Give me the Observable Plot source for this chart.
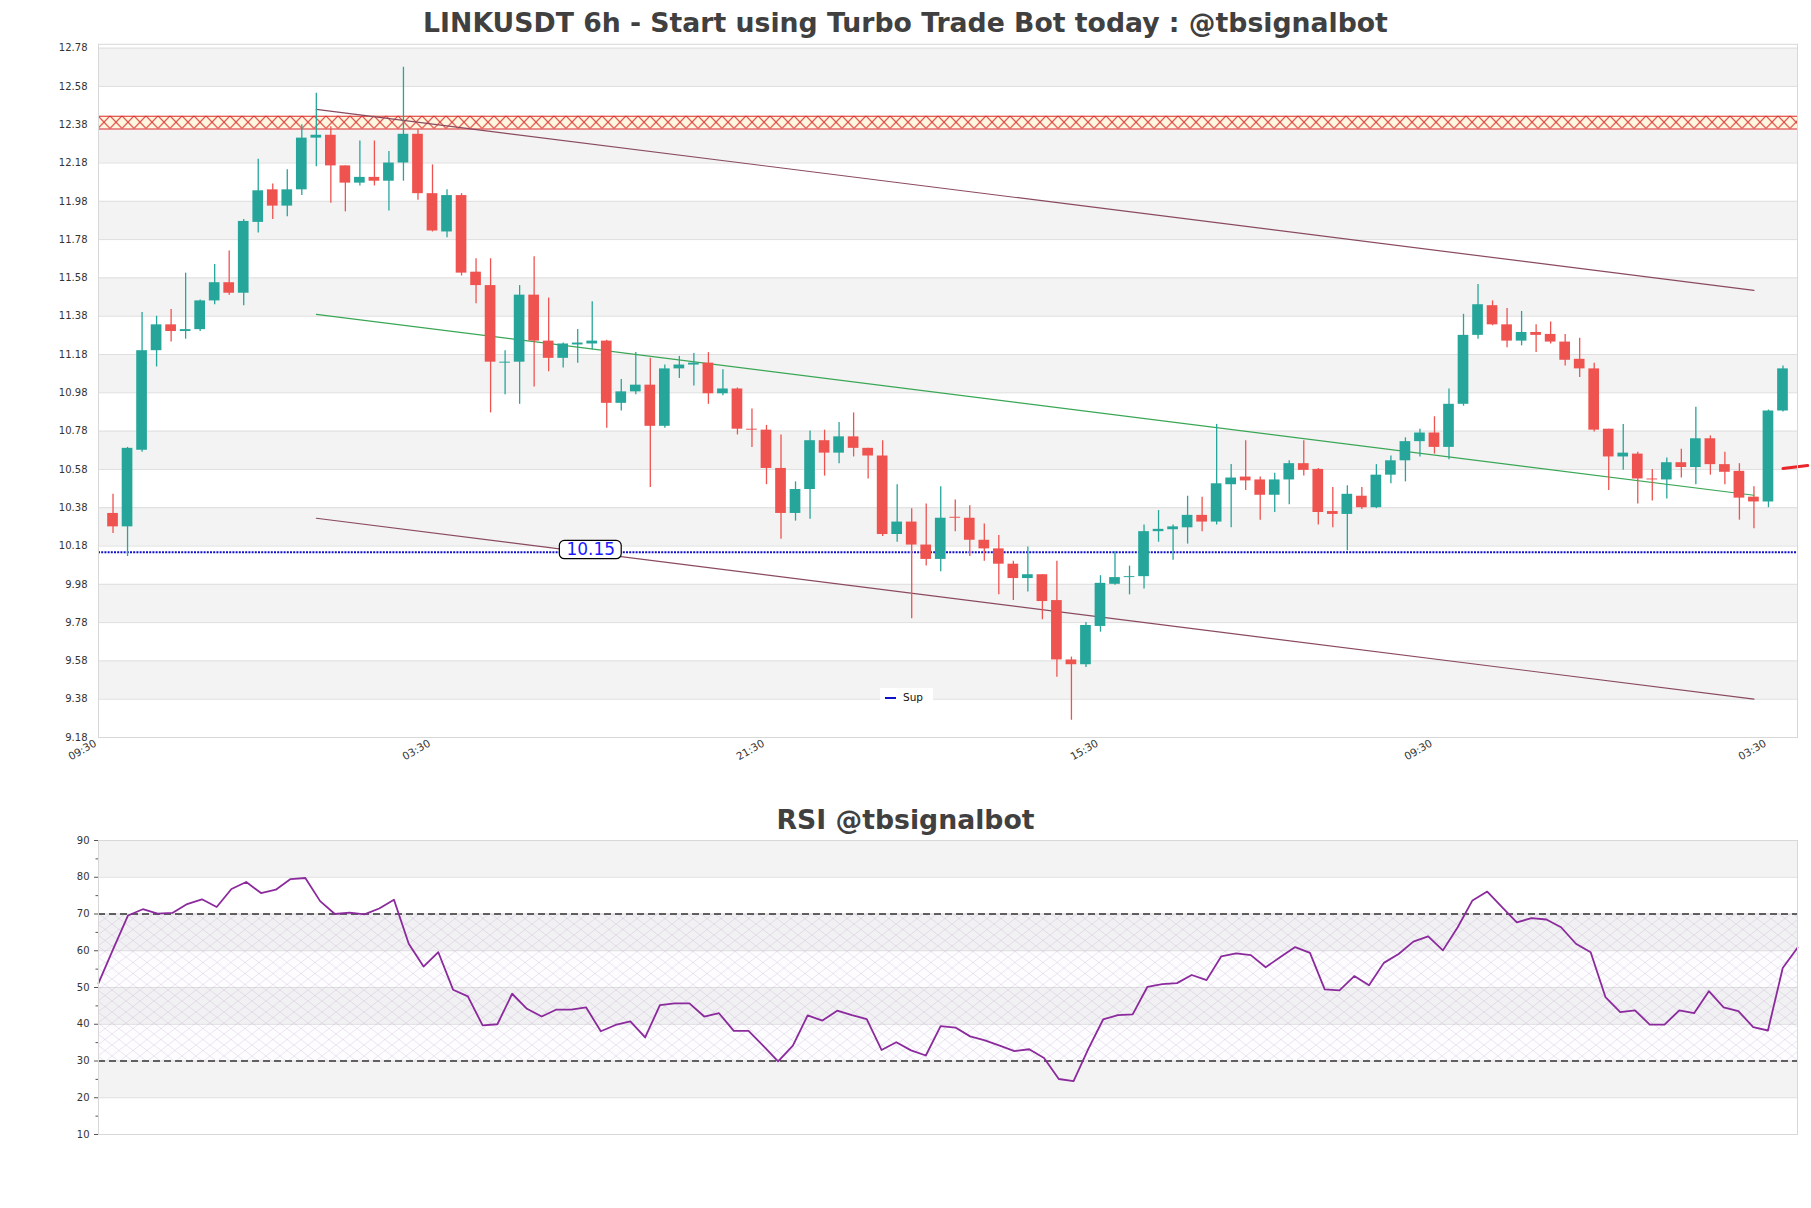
<!DOCTYPE html>
<html><head><meta charset="utf-8">
<script src="https://cdn.jsdelivr.net/npm/d3@7"></script>
<script src="https://cdn.jsdelivr.net/npm/@observablehq/plot@0.6"></script>
<style>
body{margin:0;background:#fff;}
#page{position:relative;width:1811px;height:1208px;overflow:hidden;font-family:"DejaVu Sans",sans-serif;background:#fff;}
.title{position:absolute;left:0;width:1811px;text-align:center;font-weight:bold;font-size:26.7px;color:#404040;line-height:34px;white-space:nowrap;}
#t1{top:6px;} #t2{top:803px;}
#c1{position:absolute;left:0;top:40px;}
#c2{position:absolute;left:0;top:836px;}
#legend{position:absolute;left:880px;top:688px;width:53px;height:18px;background:#fff;font-size:10.5px;color:#111;}
#legend .sw{position:absolute;left:5px;top:9px;width:11px;height:2px;background:#1010c8;}
#legend .lb{position:absolute;left:23px;top:0;line-height:18px;}
</style></head>
<body><div id="page">
<div class="title" id="t1">LINKUSDT 6h - Start using Turbo Trade Bot today : @tbsignalbot</div>
<div id="c1"></div>
<div id="legend"><div class="sw"></div><div class="lb">Sup</div></div>
<div class="title" id="t2">RSI @tbsignalbot</div>
<div id="c2"></div>
</div>
<script>
// ---------- data ----------
const opens  = [10.35,10.28,10.68,11.20,11.335,11.30,11.31,11.46,11.555,11.50,11.87,12.04,11.955,12.04,12.31,12.325,12.165,12.075,12.105,12.085,12.18,12.33,12.02,11.82,12.01,11.61,11.54,11.135,11.14,11.49,11.25,11.16,11.23,11.235,11.25,10.925,10.985,11.02,10.805,11.105,11.125,11.135,10.975,11.00,10.79,10.785,10.585,10.35,10.475,10.73,10.665,10.75,10.69,10.65,10.24,10.305,10.185,10.11,10.33,10.325,10.21,10.165,10.085,10.01,10.03,9.895,9.585,9.56,9.76,9.98,10.015,10.02,10.255,10.265,10.275,10.34,10.305,10.50,10.54,10.525,10.445,10.525,10.61,10.58,10.36,10.345,10.44,10.38,10.55,10.625,10.725,10.77,10.695,10.92,11.28,11.435,11.335,11.25,11.295,11.285,11.245,11.155,11.105,10.79,10.645,10.66,10.53,10.525,10.615,10.59,10.74,10.605,10.57,10.435,10.41,10.885];
const highs  = [10.45,10.695,11.40,11.38,11.415,11.605,11.465,11.65,11.72,11.885,12.20,12.07,12.145,12.38,12.545,12.37,12.165,12.295,12.295,12.24,12.68,12.355,12.17,12.04,12.02,11.68,11.68,11.20,11.54,11.69,11.475,11.24,11.31,11.455,11.255,11.05,11.19,11.16,11.125,11.17,11.185,11.19,11.10,11.005,10.895,10.81,10.76,10.515,10.78,10.785,10.825,10.875,10.69,10.73,10.50,10.375,10.40,10.49,10.42,10.39,10.295,10.235,10.10,10.175,10.03,10.10,9.60,9.78,10.025,10.15,10.075,10.29,10.365,10.29,10.44,10.435,10.815,10.605,10.73,10.54,10.56,10.625,10.73,10.585,10.485,10.495,10.485,10.605,10.65,10.745,10.79,10.855,11.00,11.39,11.545,11.46,11.42,11.405,11.335,11.35,11.285,11.265,11.135,10.79,10.815,10.67,10.58,10.64,10.685,10.905,10.755,10.67,10.61,10.49,10.89,11.12];
const lows   = [10.245,10.125,10.67,11.115,11.245,11.26,11.30,11.44,11.49,11.435,11.815,11.885,11.90,12.01,12.16,11.97,11.925,12.06,12.06,11.93,12.085,11.985,11.82,11.79,11.59,11.445,10.875,10.97,10.92,11.01,11.09,11.11,11.135,11.205,10.795,10.885,10.97,10.485,10.795,11.055,11.015,10.92,10.965,10.76,10.695,10.50,10.215,10.31,10.32,10.545,10.61,10.645,10.53,10.23,10.20,9.80,10.075,10.045,10.255,10.125,10.10,9.925,9.895,9.94,9.795,9.495,9.27,9.545,9.73,9.975,9.925,9.955,10.20,10.105,10.19,10.255,10.29,10.275,10.47,10.315,10.355,10.395,10.545,10.29,10.275,10.155,10.37,10.375,10.505,10.515,10.645,10.66,10.63,10.91,11.26,11.33,11.215,11.225,11.19,11.235,11.12,11.06,10.775,10.47,10.575,10.40,10.415,10.425,10.535,10.50,10.55,10.50,10.315,10.27,10.38,10.88];
const closes = [10.28,10.69,11.20,11.335,11.30,11.31,11.46,11.555,11.50,11.875,12.035,11.955,12.04,12.31,12.325,12.165,12.075,12.105,12.085,12.18,12.33,12.02,11.825,12.01,11.605,11.54,11.14,11.14,11.49,11.25,11.16,11.235,11.24,11.25,10.925,10.985,11.02,10.805,11.105,11.125,11.135,10.975,11.00,10.79,10.785,10.585,10.35,10.475,10.73,10.665,10.75,10.69,10.65,10.24,10.305,10.185,10.11,10.325,10.325,10.21,10.165,10.085,10.01,10.03,9.89,9.585,9.56,9.765,9.985,10.015,10.02,10.255,10.267,10.28,10.34,10.305,10.505,10.535,10.52,10.445,10.525,10.61,10.575,10.355,10.345,10.45,10.38,10.55,10.625,10.725,10.77,10.695,10.92,11.28,11.44,11.335,11.25,11.295,11.28,11.245,11.15,11.105,10.785,10.645,10.665,10.53,10.525,10.615,10.59,10.74,10.605,10.565,10.43,10.41,10.885,11.105];

const rsiValues = [51.2,60.5,69.6,71.3,70.1,70.3,72.7,74.0,71.9,76.8,78.7,75.7,76.6,79.5,79.8,73.5,70.0,70.4,69.9,71.5,73.9,61.9,55.7,59.6,49.4,47.6,39.7,40.0,48.3,44.2,42.1,44.0,44.0,44.6,38.1,39.8,40.8,36.4,45.2,45.7,45.7,42.1,43.0,38.2,38.2,34.1,29.9,34.2,42.4,41.0,43.7,42.5,41.4,33.0,35.1,32.9,31.5,39.5,39.1,36.7,35.6,34.2,32.7,33.2,30.8,25.1,24.5,33.3,41.3,42.5,42.7,50.2,50.9,51.2,53.4,52.0,58.5,59.3,58.8,55.5,58.3,61.0,59.4,49.5,49.2,53.1,50.6,56.7,59.1,62.5,63.9,60.1,66.4,73.7,76.1,71.9,67.7,68.9,68.5,66.4,61.9,59.6,47.4,43.3,43.8,39.9,39.9,43.8,43.0,49.0,44.6,43.6,39.2,38.3,55.3,60.8];

const priceTicks = [9.18,9.38,9.58,9.78,9.98,10.18,10.38,10.58,10.78,10.98,11.18,11.38,11.58,11.78,11.98,12.18,12.38,12.58,12.78];
const xTickPos = [0,23,46,69,92,115];
const xTickLabels = ["09:30","03:30","21:30","15:30","09:30","03:30"];
const rsiTicks = [10,20,30,40,50,60,70,80,90];
const rsiMinorTicks = [15,25,35,45,55,65,75,85];

const channelStartK = 15, channelEndK = 114;
const channelUpper = [12.46, 11.515];
const channelMid   = [11.39, 10.445];
const channelLower = [10.325, 9.38];
const resistanceZone = [12.358, 12.424];
const supportLevel = 10.147;
const supportLabelK = 33.9;
const lastPriceLine = [10.585, 10.60];
const lastPriceK = [116, 117.7];
const rsiLevels = [30, 70];

// ---------- derived tables ----------
const UP = "#26a69a", DOWN = "#ef5350";
const candles = opens.map((o, i) => ({k: i + 1, open: o, high: highs[i], low: lows[i], close: closes[i], up: closes[i] >= o}));
const upC = candles.filter(d => d.up), dnC = candles.filter(d => !d.up);
const xMax = 117;
const priceBands = priceTicks.slice(0, -1).map((t, i) => ({y1: t, y2: priceTicks[i + 1], gray: i % 2 === 1})).filter(d => d.gray);
const rsiBands = rsiTicks.slice(0, -1).map((t, i) => ({y1: t, y2: rsiTicks[i + 1], gray: i % 2 === 1})).filter(d => d.gray);
const chan = (arr, name) => [{k: channelStartK, v: arr[0], s: name}, {k: channelEndK, v: arr[1], s: name}];
const rsi = rsiValues.map((v, i) => ({i, v}));
const halfW = 0.368;
const lblMap = new Map(xTickPos.map((p, i) => [p, xTickLabels[i]]));
const hasAxisMarks = typeof Plot.axisX === "function";

// ---------- main chart ----------
const W = 1811;
const marks1 = [
  Plot.rect(priceBands, {x1: () => 0, x2: () => xMax, y1: "y1", y2: "y2", fill: "#f3f3f3"}),
  Plot.ruleY(priceTicks, {stroke: "#dedede", strokeWidth: 1}),
  Plot.rect([resistanceZone], {x1: () => 0, x2: () => xMax, y1: d => d[0], y2: d => d[1], fill: "url(#resHatch)"}),
  Plot.ruleY(resistanceZone, {stroke: "#dd2a2a", strokeWidth: 1.1}),
  Plot.ruleY([supportLevel], {stroke: "#1010c8", strokeWidth: 2, strokeDasharray: "2,1.2"}),
  Plot.line([...chan(channelUpper, "u"), ...chan(channelLower, "l")], {x: "k", y: "v", z: "s", stroke: "#8a4a5e", strokeWidth: 1.2}),
  Plot.line(chan(channelMid, "m"), {x: "k", y: "v", stroke: "#3aa655", strokeWidth: 1.2}),
  Plot.ruleX(upC, {x: "k", y1: "low", y2: "high", stroke: UP, strokeWidth: 1.3}),
  Plot.ruleX(dnC, {x: "k", y1: "low", y2: "high", stroke: DOWN, strokeWidth: 1.3}),
  Plot.rect(upC, {x1: d => d.k - halfW, x2: d => d.k + halfW, y1: "open", y2: "close", fill: UP}),
  Plot.rect(dnC, {x1: d => d.k - halfW, x2: d => d.k + halfW, y1: "open", y2: "close", fill: DOWN}),
  Plot.rect([supportLevel], {x1: () => supportLabelK - 2.13, x2: () => supportLabelK + 2.13, y1: d => d - 0.036, y2: d => d + 0.060, fill: "white", stroke: "black", strokeWidth: 1.2, rx: 5}),
  Plot.text([supportLevel], {x: () => supportLabelK, y: d => d + 0.012, text: d => d.toFixed(2), fill: "#1a1aff", fontSize: 17, fontFamily: "DejaVu Sans"}),
  Plot.line(lastPriceK.map((k, i) => ({k, v: lastPriceLine[i]})), {x: "k", y: "v", stroke: "#e8262b", strokeWidth: 3}),
  Plot.frame({stroke: "#d8d8d8"})
];
if (hasAxisMarks) {
  marks1.push(Plot.axisX({ticks: xTickPos, tickFormat: d => lblMap.get(d) ?? "", tickRotate: -30, tickSize: 0, tickPadding: 5, fontSize: 10.5, dx: -3, label: null}));
  marks1.push(Plot.axisY({ticks: priceTicks, tickFormat: d3.format(".2f"), tickSize: 0, tickPadding: 11, label: null}));
}
const chart1 = Plot.plot({
  width: W, height: 760,
  marginLeft: 98, marginRight: 14, marginTop: 3.8, marginBottom: 63,
  style: {fontFamily: "DejaVu Sans", fontSize: "10px", color: "#333", background: "transparent"},
  x: {domain: [0, xMax], ticks: xTickPos, tickFormat: d => lblMap.get(d) ?? "", tickRotate: -30, tickSize: 0, tickPadding: 6, label: null},
  y: {domain: [9.18, 12.80], ticks: priceTicks, tickFormat: d3.format(".2f"), tickSize: 0, tickPadding: 11, label: null},
  marks: marks1
});

// hatch pattern aligned to the resistance zone using the chart's own scales
(function () {
  const ys = chart1.scale("y"), xs = chart1.scale("x");
  const yf = d3.scaleLinear(ys.domain, ys.range), xf = d3.scaleLinear(xs.domain, xs.range);
  const top = yf(resistanceZone[1]), h = yf(resistanceZone[0]) - top, left = xf(0);
  const defs = document.createElementNS("http://www.w3.org/2000/svg", "defs");
  defs.innerHTML = `<pattern id="resHatch" patternUnits="userSpaceOnUse" x="${left}" y="${top}" width="12" height="${h}">
     <rect width="12" height="${h}" fill="#fff6df"/>
     <path d="M0,0L12,${h}M12,0L0,${h}" stroke="#dd2a2a" stroke-width="1" fill="none"/></pattern>`;
  chart1.insertBefore(defs, chart1.firstChild);
})();
document.getElementById("c1").appendChild(chart1);

// ---------- RSI chart ----------
const rsiMarks = [
  Plot.rect(rsiBands, {x1: () => 0, x2: () => rsiValues.length - 1, y1: "y1", y2: "y2", fill: "#f3f3f3"}),
  Plot.ruleY(rsiTicks, {stroke: "#dedede"}),
  Plot.rect([rsiLevels], {x1: () => 0, x2: () => rsiValues.length - 1, y1: d => d[0], y2: d => d[1], fill: "#c8a8dc", fillOpacity: 0.035}),
  Plot.rect([rsiLevels], {x1: () => 0, x2: () => rsiValues.length - 1, y1: d => d[0], y2: d => d[1], fill: "url(#rsiHatch)"}),
  Plot.ruleY(rsiLevels, {stroke: "#333", strokeWidth: 1.3, strokeDasharray: "7,4"}),
  Plot.line(rsi, {x: "i", y: "v", stroke: "#8b2a9c", strokeWidth: 1.8}),
  Plot.frame({stroke: "#d8d8d8"})
];
if (hasAxisMarks) {
  rsiMarks.push(Plot.axisY({ticks: rsiTicks, tickSize: 4, tickPadding: 5, label: null, stroke: "#555"}));
  rsiMarks.push(Plot.axisY({ticks: rsiMinorTicks, tickSize: 2.5, tickFormat: () => "", label: null, stroke: "#555"}));
}
const chart2 = Plot.plot({
  width: W, height: 330,
  marginLeft: 98, marginRight: 14, marginTop: 4, marginBottom: 32,
  style: {fontFamily: "DejaVu Sans", fontSize: "10px", color: "#333", background: "transparent"},
  x: {domain: [0, rsiValues.length - 1], axis: null},
  y: {domain: [10, 90], ticks: rsiTicks, tickSize: 4, tickPadding: 5, label: null},
  marks: rsiMarks
});
(function () {
  const defs = document.createElementNS("http://www.w3.org/2000/svg", "defs");
  defs.innerHTML = `<pattern id="rsiHatch" patternUnits="userSpaceOnUse" width="14" height="11">
     <path d="M0,0L14,11M14,0L0,11" stroke="#a98cbf" stroke-opacity="0.3" stroke-width="0.7" fill="none"/></pattern>`;
  chart2.insertBefore(defs, chart2.firstChild);
})();
document.getElementById("c2").appendChild(chart2);
</script>
</body></html>
